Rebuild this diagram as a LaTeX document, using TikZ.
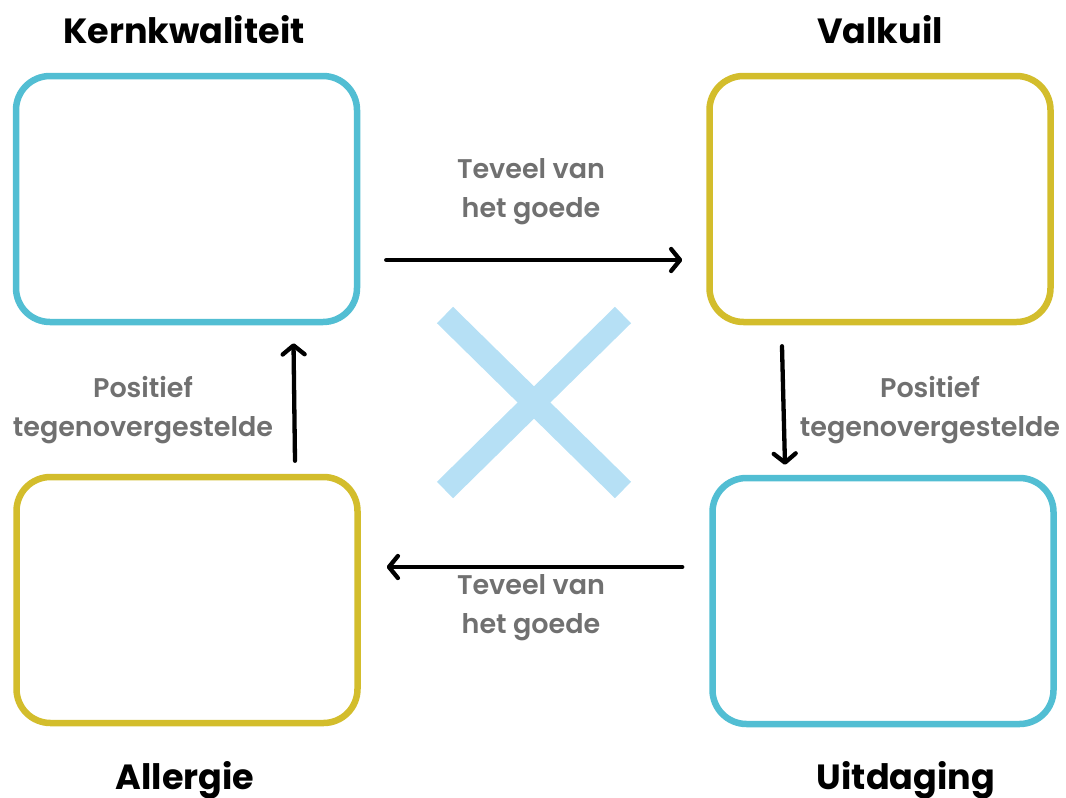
\documentclass[tikz,border=0pt]{standalone}
\usepackage{fontspec}
\setmainfont{Poppins}
\newfontfamily\labelfont{Poppins SemiBold}
\usepackage{tikz}
\usetikzlibrary{positioning,arrows.meta}
\definecolor{kerncyan}{RGB}{82,190,211}
\definecolor{valkgeel}{RGB}{211,189,44}
\definecolor{labelgrijs}{RGB}{112,112,112}
\definecolor{kruisblauw}{RGB}{182,224,245}
\tikzset{
  kwadrant/.style={draw, line width=6.5pt, rounded corners=34pt,
    minimum width=341pt, minimum height=246pt, inner sep=0pt},
  titel/.style={anchor=base, font=\fontsize{35}{40}\selectfont\bfseries},
  uitleg/.style={align=center, text=labelgrijs,
    font=\fontsize{27}{39}\selectfont\labelfont},
  pijl/.style={line width=4.3pt, line cap=round,
    -{Straight Barb[length=9pt,width=22pt,line cap=round,line join=round]}},
  kruis/.style={kruisblauw, line width=23pt}
}

\begin{document}
\begin{tikzpicture}[x=1pt, y=-1pt]
      \useasboundingbox (0,0) rectangle (1066,798);
      \node[kwadrant, kerncyan] (kern) at (186.5,199) {};
      \node[kwadrant, valkgeel] (valkuil) at (880,199) {};
      \node[kwadrant, valkgeel] (allergie) at (187,600) {};
      \node[kwadrant, kerncyan] (uitdaging) at (883,601) {};
      \node[titel] (kerntitel) at (184,43) {Kernkwaliteit};
      \node[titel] (valkuiltitel) at (880,43) {Valkuil};
      \node[titel] (allergietitel) at (185,789) {Allergie};
      \node[titel] (uitdagingtitel) at (906,789) {Uitdaging};
      % het kruis in het midden
      \draw[kruis] (445,315) -- (623,490);
      \draw[kruis] (623,315) -- (445,490);
      \draw[pijl] ([xshift=26pt,yshift=-61pt]kern.east)
        -- ([xshift=-24pt,yshift=-61pt]valkuil.west);
      \draw[pijl] ([xshift=-98pt,yshift=-21pt]valkuil.south)
        -- ([xshift=-98pt,yshift=10pt]uitdaging.north);
      \draw[pijl] ([xshift=-27pt,yshift=34pt]uitdaging.west)
        -- ([xshift=26pt,yshift=33pt]allergie.east);
      \draw[pijl] ([xshift=108pt,yshift=13pt]allergie.north)
        -- ([xshift=107pt,yshift=-18pt]kern.south);
      \node[uitleg] (teveelboven) at (531,192) {Teveel van\\het goede};
      \node[uitleg] (teveelonder) at (531,608) {Teveel van\\het goede};
      \node[uitleg] (positieflinks) at (143,410) {Positief\\tegenovergestelde};
      \node[uitleg] (positiefrechts) at (930,410) {Positief\\tegenovergestelde};
    \end{tikzpicture}
\end{document}
